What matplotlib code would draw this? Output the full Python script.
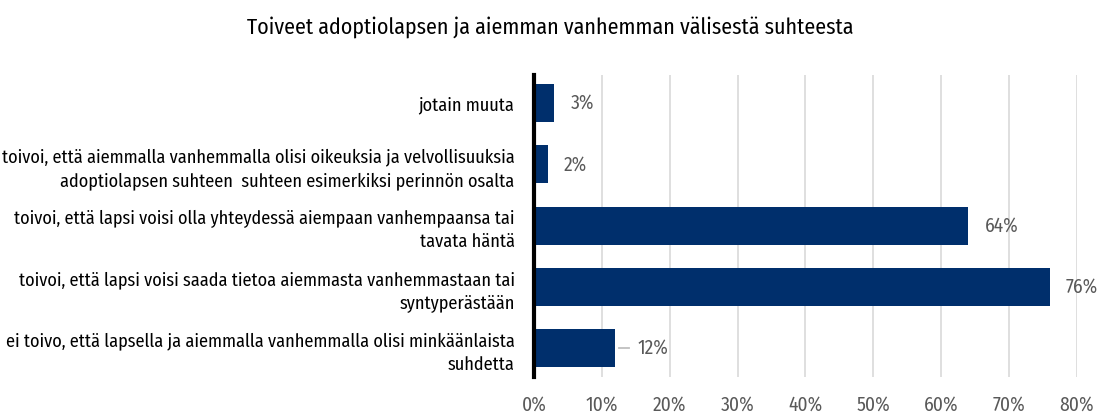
import matplotlib
matplotlib.use('Agg')
import matplotlib.pyplot as plt

plt.rcParams['font.family'] = ['Fira Sans Condensed', 'DejaVu Sans']

# data, bottom to top
labels = [
    'ei toivo, että lapsella ja aiemmalla vanhemmalla olisi minkäänlaista\nsuhdetta',
    'toivoi, että lapsi voisi saada tietoa aiemmasta vanhemmastaan tai\nsyntyperästään',
    'toivoi, että lapsi voisi olla yhteydessä aiempaan vanhempaansa tai\ntavata häntä',
    'toivoi, että aiemmalla vanhemmalla olisi oikeuksia ja velvollisuuksia\nadoptiolapsen suhteen  suhteen esimerkiksi perinnön osalta',
    'jotain muuta',
]
values = [12, 76, 64, 2, 3]
xticks = [0, 10, 20, 30, 40, 50, 60, 70, 80]

fig = plt.figure(figsize=(11.01, 4.17), dpi=100)
ax = fig.add_axes([0.485, 0.096, 0.493, 0.724])

pos = range(len(values))
ax.barh(pos, values, height=0.62, color='#002f6c', zorder=3)

for y, v in zip(pos, values):
    if v == 12:
        ax.plot([v + 0.5, v + 2.0], [y, y], color='#bfbfbf', lw=1.3, zorder=3)
        ax.text(v + 3.2, y, f'{v}%', va='center', ha='left', fontsize=14, color='#595959')
    else:
        ax.text(v + 2.4, y, f'{v}%', va='center', ha='left', fontsize=14, color='#595959')

ax.set_xlim(0, 80)
ax.set_ylim(-0.47, 4.46)
ax.set_xticks(xticks)
ax.set_xticklabels([f'{t}%' for t in xticks], fontsize=14, color='#595959')
ax.set_yticks(list(pos))
ax.set_yticklabels(labels, fontsize=13.1, color='black', linespacing=1.4)
ax.tick_params(axis='both', length=0)
ax.tick_params(axis='x', pad=13)
ax.tick_params(axis='y', pad=14)

ax.grid(axis='x', color='#d9d9d9', lw=1.2, zorder=0)
for s in ['top', 'right', 'bottom']:
    ax.spines[s].set_visible(False)
ax.spines['left'].set_linewidth(3)
ax.spines['left'].set_color('black')
ax.spines['left'].set_zorder(4)

fig.text(0.5, 0.935, 'Toiveet adoptiolapsen ja aiemman vanhemman välisestä suhteesta',
         ha='center', va='center', fontsize=15.8, color='black')

fig.savefig('out.png', dpi=100)
